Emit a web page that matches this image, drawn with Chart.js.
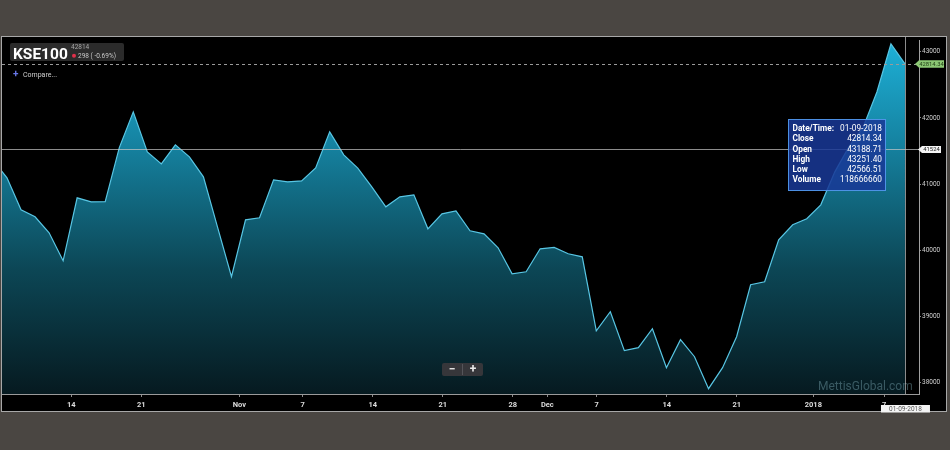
<!DOCTYPE html>
<html>
<head>
<meta charset="utf-8">
<script src="https://cdn.jsdelivr.net/npm/chart.js@4/dist/chart.umd.min.js"></script>
<style>
  html, body { margin: 0; padding: 0; background: #4a4642; }
  #wrap { width: 950px; height: 450px; }
</style>
</head>
<body>
<div id="wrap"><canvas id="kse"></canvas></div>
<script>
// KSE100 daily closes, first value sits just left of the visible window
const closes = [
    41367, 41095, 40612, 40507, 40265, 39843, 40793, 40733, 40735, 41548,
    42091, 41487, 41306, 41593, 41412, 41110, 40356, 39602, 40462, 40492,
    41065, 41035, 41050, 41246, 41789, 41442, 41241, 40959, 40658, 40808,
    40839, 40326, 40552, 40597, 40296, 40250, 40039, 39647, 39677, 40024,
    40044, 39949, 39903, 38787, 39074, 38486, 38531, 38817, 38229, 38652,
    38395, 37912, 38229, 38697, 39481, 39526, 40160, 40386, 40477, 40688,
    41185, 41563, 41849, 42392, 43116, 42814.34
];
const firstIndex = -1;

// date ticks fall between trading days (ordinal axis)
const tickPositions = [4.58, 9.57, 16.56, 21.08, 26.07, 31.06, 36.05, 38.51, 42.03, 47.02, 52.01, 57.47, 62.51];
const tickLabels = ['14', '21', 'Nov', '7', '14', '21', '28', 'Dec', '7', '14', '21', '2018', '7'];
const yTicks = [38000, 39000, 40000, 41000, 42000, 43000];

const lastClose = 42814.34;
const lastChange = '298 ( -0.69%)';
const crossValue = 41524;
const crossDate = '01-09-2018';
const tooltipRows = [
    ['Close', '42814.34'],
    ['Open', '43188.71'],
    ['High', '43251.40'],
    ['Low', '42566.51'],
    ['Volume', '118666660']
];

const FONT = "Roboto, 'Noto Sans', sans-serif";
const points = closes.map((v, i) => ({ x: i + firstIndex, y: v }));

function roundRect(ctx, x, y, w, h, r) {
    ctx.beginPath();
    ctx.moveTo(x + r, y);
    ctx.lineTo(x + w - r, y); ctx.quadraticCurveTo(x + w, y, x + w, y + r);
    ctx.lineTo(x + w, y + h - r); ctx.quadraticCurveTo(x + w, y + h, x + w - r, y + h);
    ctx.lineTo(x + r, y + h); ctx.quadraticCurveTo(x, y + h, x, y + h - r);
    ctx.lineTo(x, y + r); ctx.quadraticCurveTo(x, y, x + r, y);
    ctx.closePath();
}

function priceFlag(ctx, x, y, w, h, fill, text, color) {
    ctx.beginPath();
    ctx.moveTo(x, y);
    ctx.lineTo(x + 4, y - h / 2);
    ctx.lineTo(x + w, y - h / 2);
    ctx.lineTo(x + w, y + h / 2);
    ctx.lineTo(x + 4, y + h / 2);
    ctx.closePath();
    ctx.fillStyle = fill;
    ctx.fill();
    ctx.fillStyle = color;
    ctx.font = `5.8px ${FONT}`;
    ctx.textAlign = 'center';
    ctx.textBaseline = 'middle';
    ctx.fillText(text, x + 2 + w / 2, y + 0.5);
}

const frame = {
    id: 'frame',
    beforeDraw(chart) {
        const ctx = chart.ctx;
        ctx.save();
        ctx.fillStyle = '#4a4642';
        ctx.fillRect(0, 0, chart.width, chart.height);
        ctx.fillStyle = '#000';
        ctx.fillRect(1, 36, 946, 376);
        ctx.strokeStyle = '#a8a8a8';
        ctx.lineWidth = 1;
        ctx.strokeRect(1.5, 36.5, 945, 375);
        ctx.restore();
    },
    afterDatasetsDraw(chart) {
        const ctx = chart.ctx;
        const a = chart.chartArea;
        const xs = chart.scales.x, ys = chart.scales.y;
        ctx.save();
        // watermark
        ctx.font = `12px ${FONT}`;
        ctx.fillStyle = 'rgba(120,165,175,0.45)';
        ctx.textAlign = 'left';
        ctx.textBaseline = 'middle';
        ctx.fillText('MettisGlobal.com', 818, 387);

        // last price dashed line
        const yLast = Math.round(ys.getPixelForValue(lastClose)) + 0.5;
        ctx.strokeStyle = '#9a9a9a';
        ctx.setLineDash([3, 3]);
        ctx.beginPath();
        ctx.moveTo(a.left, yLast); ctx.lineTo(a.right, yLast);
        ctx.stroke();
        ctx.setLineDash([]);

        // crosshair
        const yc = Math.round(ys.getPixelForValue(crossValue)) + 0.5;
        const xc = Math.round(xs.getPixelForValue(closes.length - 1 + firstIndex)) + 0.5;
        ctx.strokeStyle = 'rgba(200,200,200,0.7)';
        ctx.beginPath();
        ctx.moveTo(a.left, yc); ctx.lineTo(a.right, yc);
        ctx.moveTo(xc, 37); ctx.lineTo(xc, a.bottom);
        ctx.stroke();

        // zoom buttons
        ctx.fillStyle = '#36363a';
        roundRect(ctx, 442, 363, 41, 13, 2);
        ctx.fill();
        ctx.strokeStyle = '#55555a';
        ctx.beginPath();
        ctx.moveTo(462.5, 364); ctx.lineTo(462.5, 375);
        ctx.stroke();
        ctx.fillStyle = '#e8e8e8';
        ctx.font = `bold 12px ${FONT}`;
        ctx.textAlign = 'center';
        ctx.fillText('\u2212', 452, 369.5);
        ctx.fillText('+', 473, 369.5);
        ctx.restore();
    },
    afterDraw(chart) {
        const ctx = chart.ctx;
        const ys = chart.scales.y, xs = chart.scales.x;
        const a = chart.chartArea;
        ctx.save();

        // price flags on right axis
        priceFlag(ctx, a.right - 4, ys.getPixelForValue(lastClose), 29, 7.5, '#8cc874', lastClose.toFixed(2), '#1d3b12');
        priceFlag(ctx, a.right - 1, ys.getPixelForValue(crossValue), 23, 7, '#f4f4f4', String(crossValue), '#222');

        // date flag under crosshair
        const xc = xs.getPixelForValue(closes.length - 1 + firstIndex);
        ctx.fillStyle = '#f4f4f4';
        ctx.fillRect(xc - 24, 405, 49, 7.5);
        ctx.fillStyle = '#555';
        ctx.font = `6.5px ${FONT}`;
        ctx.textAlign = 'center';
        ctx.textBaseline = 'middle';
        ctx.fillText(crossDate, xc + 0.5, 409);

        // title box
        ctx.fillStyle = '#2b2b2b';
        roundRect(ctx, 10, 43, 114, 18, 2);
        ctx.fill();
        ctx.fillStyle = '#ffffff';
        ctx.font = `bold 15.5px ${FONT}`;
        ctx.textAlign = 'left';
        ctx.textBaseline = 'alphabetic';
        ctx.fillText('KSE100', 13, 58.5);
        ctx.font = `6.5px ${FONT}`;
        ctx.fillStyle = '#a8a8a8';
        ctx.textBaseline = 'middle';
        ctx.fillText(String(Math.round(lastClose)), 71, 47.5);
        ctx.fillStyle = '#e0304a';
        ctx.beginPath();
        ctx.arc(74, 55.7, 2, 0, Math.PI * 2);
        ctx.fill();
        ctx.fillStyle = '#c8c8c8';
        ctx.fillText(lastChange, 78, 56);

        // compare link
        ctx.fillStyle = '#6877e8';
        ctx.font = `bold 10px ${FONT}`;
        ctx.textAlign = 'center';
        ctx.fillText('+', 15.7, 74.5);
        ctx.fillStyle = '#d0d0d0';
        ctx.font = `7px ${FONT}`;
        ctx.textAlign = 'left';
        ctx.fillText('Compare...', 23, 75);

        // tooltip
        const tx = 788.5, ty = 119.5, tw = 97, th = 71;
        ctx.fillStyle = 'rgba(24,56,150,0.86)';
        ctx.fillRect(tx, ty, tw, th);
        ctx.strokeStyle = 'rgba(80,150,235,0.95)';
        ctx.lineWidth = 1;
        ctx.strokeRect(tx, ty, tw, th);
        ctx.fillStyle = '#ffffff';
        ctx.textBaseline = 'middle';
        ctx.font = `bold 8.3px ${FONT}`;
        ctx.textAlign = 'left';
        ctx.fillText('Date/Time:', 792.5, 129);
        ctx.font = `8.3px ${FONT}`;
        ctx.textAlign = 'right';
        ctx.fillText(crossDate, 882, 129);
        tooltipRows.forEach((row, i) => {
            const y = 139.3 + i * 10.2;
            ctx.font = `bold 8.3px ${FONT}`;
            ctx.textAlign = 'left';
            ctx.fillText(row[0], 792.5, y);
            ctx.font = `8.3px ${FONT}`;
            ctx.textAlign = 'right';
            ctx.fillText(row[1], 882, y);
        });
        ctx.restore();
    }
};

new Chart(document.getElementById('kse'), {
    type: 'line',
    data: {
        datasets: [{
            data: points,
            borderColor: '#58c6e4',
            borderWidth: 1.2,
            pointRadius: 0,
            tension: 0,
            fill: 'start',
            backgroundColor: (c) => {
                const area = c.chart.chartArea;
                if (!area) return 'rgba(20,120,150,0.8)';
                const g = c.chart.ctx.createLinearGradient(0, area.top, 0, area.bottom);
                g.addColorStop(0, '#1eb1d8');
                g.addColorStop(0.3, '#15819f');
                g.addColorStop(0.65, '#0c4655');
                g.addColorStop(1, '#061a20');
                return g;
            }
        }]
    },
    options: {
        responsive: true,
        maintainAspectRatio: false,
        animation: false,
        layout: { padding: { left: 2, top: 40, right: 3, bottom: 38 } },
        plugins: { legend: { display: false }, tooltip: { enabled: false } },
        scales: {
            x: {
                type: 'linear',
                min: -0.356,
                max: 65.0,
                afterFit: (s) => { s.height = 18; },
                afterBuildTicks: (s) => { s.ticks = tickPositions.map(v => ({ value: v })); },
                grid: { display: true, drawOnChartArea: false, tickLength: 3, color: '#8a8a8a' },
                border: { display: true, color: '#9a9a9a' },
                ticks: {
                    autoSkip: false, maxRotation: 0, padding: 4,
                    color: '#dcdcdc',
                    font: { family: FONT, size: 7.5, weight: 'bold' },
                    callback: (v, i) => tickLabels[i]
                }
            },
            y: {
                position: 'right',
                min: 37832,
                max: 43176,
                afterFit: (s) => { s.width = 28; },
                afterBuildTicks: (s) => { s.ticks = yTicks.map(v => ({ value: v })); },
                grid: { display: true, drawOnChartArea: false, tickLength: 2, color: '#8a8a8a' },
                border: { display: true, color: '#a0a0a0' },
                ticks: {
                    padding: 1,
                    color: '#d0d0d0',
                    font: { family: FONT, size: 6.5 },
                    callback: (v) => String(v)
                }
            }
        }
    },
    plugins: [frame]
});
</script>
</body>
</html>
